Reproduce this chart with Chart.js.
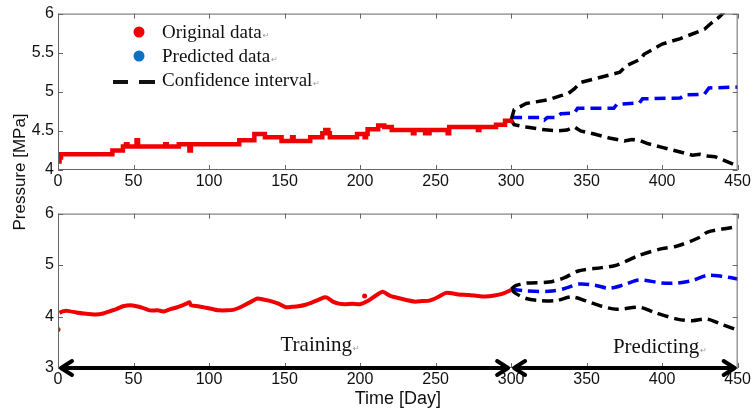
<!DOCTYPE html>
<html>
<head>
<meta charset="utf-8">
<script src="https://cdn.jsdelivr.net/npm/chart.js@4"></script>
<style>
  body { margin: 0; background: #fff; }
  #page { position: relative; width: 753px; height: 414px; overflow: hidden; background: #fff; }
  .box { position: absolute; left: 0; width: 753px; }
  #topBox { top: 0; height: 200px; }
  #bottomBox { top: 200px; height: 214px; }
  #yTitle {
    position: absolute; left: -80px; top: 162px; width: 200px; height: 20px;
    line-height: 20px; text-align: center; transform: rotate(-90deg);
    font: 17px "Liberation Sans", Arial, sans-serif; color: #111;
  }
</style>
</head>
<body>
<div id="page">
  <div class="box" id="topBox"><canvas id="pressureTop"></canvas></div>
  <div class="box" id="bottomBox"><canvas id="pressureBottom"></canvas></div>
  <div id="yTitle">Pressure [MPa]</div>
</div>
<script>
// axes
const xTitle = 'Time [Day]';
const legendLabels = ['Original data', 'Predicted data', 'Confidence interval'];
const phaseLabels = ['Training', 'Predicting'];
const phaseBounds = [0, 300, 450];

// ---- upper panel (4 - 6 MPa) ----
const origDaysA = [0, 1, 2, 36, 43, 45, 46, 52, 53, 71, 72, 80, 87, 88, 120, 130, 137, 148, 155, 156, 167, 175, 177, 179, 180, 198, 203, 204, 205, 212, 216, 221, 235, 236, 243, 246, 258, 259, 278, 279, 290, 296, 300];
const origValsA = [4.11, 4.16, 4.20, 4.25, 4.30, 4.33, 4.30, 4.38, 4.30, 4.33, 4.30, 4.33, 4.25, 4.33, 4.38, 4.46, 4.42, 4.37, 4.42, 4.37, 4.42, 4.47, 4.51, 4.47, 4.42, 4.46, 4.42, 4.46, 4.52, 4.57, 4.55, 4.51, 4.47, 4.51, 4.47, 4.51, 4.47, 4.55, 4.51, 4.55, 4.58, 4.63, 4.65];

const predDaysA = [300, 320, 322, 324, 330, 333, 342, 344, 368, 370, 385, 387, 412, 415, 428, 431, 450];
const predValsA = [4.67, 4.67, 4.64, 4.67, 4.67, 4.72, 4.73, 4.79, 4.79, 4.84, 4.86, 4.91, 4.92, 4.96, 4.97, 5.05, 5.06];

const upDaysA = [300, 302, 310, 325, 333, 338, 342, 346, 360, 372, 376, 386, 388, 400, 412, 416, 428, 432, 438, 441, 450];
const upValsA = [4.64, 4.77, 4.85, 4.90, 4.95, 4.98, 5.04, 5.12, 5.19, 5.25, 5.33, 5.42, 5.48, 5.61, 5.68, 5.71, 5.80, 5.87, 5.96, 6.02, 6.15];

const loDaysA = [300, 302, 310, 320, 330, 337, 342, 346, 355, 365, 375, 380, 385, 390, 400, 410, 420, 425, 430, 435, 440, 450];
const loValsA = [4.64, 4.58, 4.55, 4.52, 4.50, 4.51, 4.55, 4.50, 4.46, 4.41, 4.37, 4.39, 4.38, 4.34, 4.29, 4.24, 4.19, 4.20, 4.18, 4.17, 4.13, 4.05];

// ---- lower panel (3 - 6 MPa) ----
const origDaysB = [1, 3, 6, 12, 17, 25, 30, 34, 39, 43, 48, 52, 57, 61, 66, 70, 74, 78, 82, 85, 87, 88, 93, 98, 103, 107, 112, 116, 120, 124, 128, 132, 136, 142, 146, 151, 155, 159, 164, 168, 172, 176, 178, 182, 186, 190, 195, 200, 205, 210, 215, 220, 228, 236, 241, 246, 251, 257, 265, 272, 278, 283, 289, 294, 298, 300];
const origValsB = [4.07, 4.10, 4.11, 4.08, 4.06, 4.04, 4.06, 4.10, 4.15, 4.20, 4.22, 4.20, 4.16, 4.12, 4.12, 4.10, 4.14, 4.17, 4.21, 4.25, 4.28, 4.22, 4.20, 4.17, 4.14, 4.12, 4.12, 4.13, 4.17, 4.23, 4.29, 4.35, 4.33, 4.29, 4.25, 4.18, 4.19, 4.20, 4.23, 4.27, 4.32, 4.37, 4.37, 4.29, 4.25, 4.24, 4.25, 4.24, 4.30, 4.40, 4.48, 4.40, 4.34, 4.29, 4.30, 4.31, 4.37, 4.46, 4.43, 4.42, 4.40, 4.39, 4.41, 4.44, 4.49, 4.52];
const outDaysB = [0, 203];
const outValsB = [3.75, 4.40];

const predDaysB = [300, 310, 325, 335, 345, 355, 365, 375, 385, 400, 410, 420, 430, 440, 450];
const predValsB = [4.53, 4.50, 4.49, 4.54, 4.63, 4.61, 4.55, 4.62, 4.71, 4.65, 4.65, 4.70, 4.80, 4.78, 4.73];

const upDaysB = [300, 303, 310, 325, 335, 345, 360, 370, 385, 400, 410, 425, 430, 440, 450];
const upValsB = [4.53, 4.60, 4.65, 4.67, 4.75, 4.89, 4.95, 5.00, 5.19, 5.32, 5.37, 5.54, 5.64, 5.70, 5.75];

const loDaysB = [300, 303, 310, 320, 330, 340, 350, 360, 370, 385, 395, 410, 420, 430, 440, 450];
const loValsB = [4.53, 4.45, 4.35, 4.31, 4.31, 4.38, 4.30, 4.20, 4.14, 4.18, 4.08, 3.95, 3.92, 3.95, 3.84, 3.74];

const RED = '#f00000';
const BLUE = '#0000f0';
const DOT_BLUE = '#0a72c4';
const tickFont = { family: '"Liberation Sans", Arial, sans-serif', size: 16 };
const serif = '"Liberation Serif", "Times New Roman", serif';

function pts(days, vals) {
  return days.map((d, i) => ({ x: d, y: vals[i] }));
}

function dashed(days, vals, color, tension) {
  return {
    data: pts(days, vals),
    borderColor: color,
    borderWidth: 3.5,
    borderDash: [11, 6],
    pointRadius: 0,
    tension: tension,
    fill: false
  };
}

// box and inward ticks, MATLAB style
const framePlugin = {
  id: 'frame',
  afterDatasetsDraw(chart) {
    const { ctx, chartArea: a, scales: { x, y } } = chart;
    ctx.save();
    ctx.strokeStyle = '#666';
    ctx.lineWidth = 1;
    ctx.strokeRect(a.left + 0.5, a.top + 0.5, a.right - a.left - 1, a.bottom - a.top - 1);
    ctx.beginPath();
    x.ticks.forEach(t => {
      const px = Math.round(x.getPixelForValue(t.value)) + 0.5;
      ctx.moveTo(px, a.bottom); ctx.lineTo(px, a.bottom - 5);
      ctx.moveTo(px, a.top); ctx.lineTo(px, a.top + 5);
    });
    y.ticks.forEach(t => {
      const py = Math.round(y.getPixelForValue(t.value)) + 0.5;
      ctx.moveTo(a.left, py); ctx.lineTo(a.left + 5, py);
      ctx.moveTo(a.right, py); ctx.lineTo(a.right - 5, py);
    });
    ctx.stroke();
    ctx.restore();
  }
};

function returnMark(ctx, x, y) {
  ctx.save();
  ctx.font = '8px "DejaVu Sans"';
  ctx.fillStyle = '#999';
  ctx.textAlign = 'left';
  ctx.fillText('\u21b5', x + 1, y);
  ctx.restore();
}

const legendPlugin = {
  id: 'innerLegend',
  afterDraw(chart) {
    const { ctx } = chart;
    ctx.save();
    ctx.font = '19px ' + serif;
    ctx.textAlign = 'left';
    ctx.textBaseline = 'alphabetic';
    // markers
    ctx.fillStyle = RED;
    ctx.beginPath(); ctx.arc(139, 32, 5.5, 0, Math.PI * 2); ctx.fill();
    ctx.fillStyle = DOT_BLUE;
    ctx.beginPath(); ctx.arc(139, 56, 5.5, 0, Math.PI * 2); ctx.fill();
    ctx.fillStyle = '#111';
    ctx.fillRect(113, 80, 15, 4);
    ctx.fillRect(139, 80, 16, 4);
    const ys = [38, 62, 86];
    legendLabels.forEach((lab, i) => {
      ctx.fillStyle = '#111';
      ctx.fillText(lab, 162, ys[i]);
      returnMark(ctx, 162 + ctx.measureText(lab).width, ys[i]);
    });
    ctx.restore();
  }
};

const phasePlugin = {
  id: 'phases',
  afterDraw(chart) {
    const { ctx, scales: { x, y } } = chart;
    const py = y.getPixelForValue(3);
    ctx.save();
    ctx.strokeStyle = '#000';
    ctx.lineWidth = 4;
    ctx.lineCap = 'round';
    ctx.lineJoin = 'round';
    for (let i = 0; i < phaseLabels.length; i++) {
      const x0 = x.getPixelForValue(phaseBounds[i]) + 3;
      const x1 = x.getPixelForValue(phaseBounds[i + 1]) - 3;
      ctx.beginPath();
      ctx.moveTo(x0, py); ctx.lineTo(x1, py);
      ctx.moveTo(x0 + 11, py - 7); ctx.lineTo(x0, py); ctx.lineTo(x0 + 11, py + 7);
      ctx.moveTo(x1 - 11, py - 7); ctx.lineTo(x1, py); ctx.lineTo(x1 - 11, py + 7);
      ctx.stroke();
    }
    ctx.font = '21px ' + serif;
    ctx.fillStyle = '#111';
    ctx.textAlign = 'center';
    const tx = [x.getPixelForValue(171), x.getPixelForValue(396)];
    const ty = [y.getPixelForValue(3.34), y.getPixelForValue(3.29)];
    phaseLabels.forEach((lab, i) => {
      ctx.fillText(lab, tx[i], ty[i]);
      returnMark(ctx, tx[i] + ctx.measureText(lab).width / 2, ty[i]);
    });
    ctx.restore();
  }
};

function xScale(height, withTitle) {
  return {
    type: 'linear', min: 0, max: 450,
    grid: { display: false, drawTicks: false },
    border: { display: false },
    ticks: { stepSize: 50, font: tickFont, color: '#111', padding: 2, maxRotation: 0 },
    title: { display: withTitle, text: xTitle, color: '#111',
      font: { family: tickFont.family, size: 18 }, padding: { top: 0, bottom: 4 } },
    afterFit: s => { s.height = height; }
  };
}

function yScale(min, max, step) {
  return {
    min: min, max: max,
    grid: { display: false, drawTicks: false },
    border: { display: false },
    ticks: { stepSize: step, font: tickFont, color: '#111', padding: 4, callback: v => String(v) },
    afterFit: s => { s.width = 58; }
  };
}

const common = {
  responsive: true,
  maintainAspectRatio: false,
  animation: false,
  plugins: { legend: { display: false }, tooltip: { enabled: false } }
};

new Chart(document.getElementById('pressureTop'), {
  type: 'line',
  data: {
    datasets: [
      { data: pts(origDaysA, origValsA), borderColor: RED, borderWidth: 4.5, pointRadius: 0, stepped: 'before', fill: false },
      dashed(upDaysA, upValsA, '#000', 0),
      dashed(loDaysA, loValsA, '#000', 0),
      dashed(predDaysA, predValsA, BLUE, 0)
    ]
  },
  options: Object.assign({}, common, {
    layout: { padding: { top: 12, right: 14, left: 0, bottom: 0 }, autoPadding: false },
    scales: { x: xScale(30, false), y: yScale(4, 6, 0.5) }
  }),
  plugins: [framePlugin, legendPlugin]
});

new Chart(document.getElementById('pressureBottom'), {
  type: 'line',
  data: {
    datasets: [
      { data: pts(origDaysB, origValsB), borderColor: RED, borderWidth: 4, pointRadius: 0, tension: 0.2, fill: false },
      { data: pts(outDaysB, outValsB), showLine: false, borderColor: RED, backgroundColor: RED, pointRadius: 2.5, pointBorderWidth: 0 },
      dashed(upDaysB, upValsB, '#000', 0.3),
      dashed(loDaysB, loValsB, '#000', 0.3),
      dashed(predDaysB, predValsB, BLUE, 0.3)
    ]
  },
  options: Object.assign({}, common, {
    layout: { padding: { top: 11, right: 14, left: 0, bottom: 0 }, autoPadding: false },
    scales: { x: xScale(46, true), y: yScale(3, 6, 1) }
  }),
  plugins: [framePlugin, phasePlugin]
});
</script>
</body>
</html>
